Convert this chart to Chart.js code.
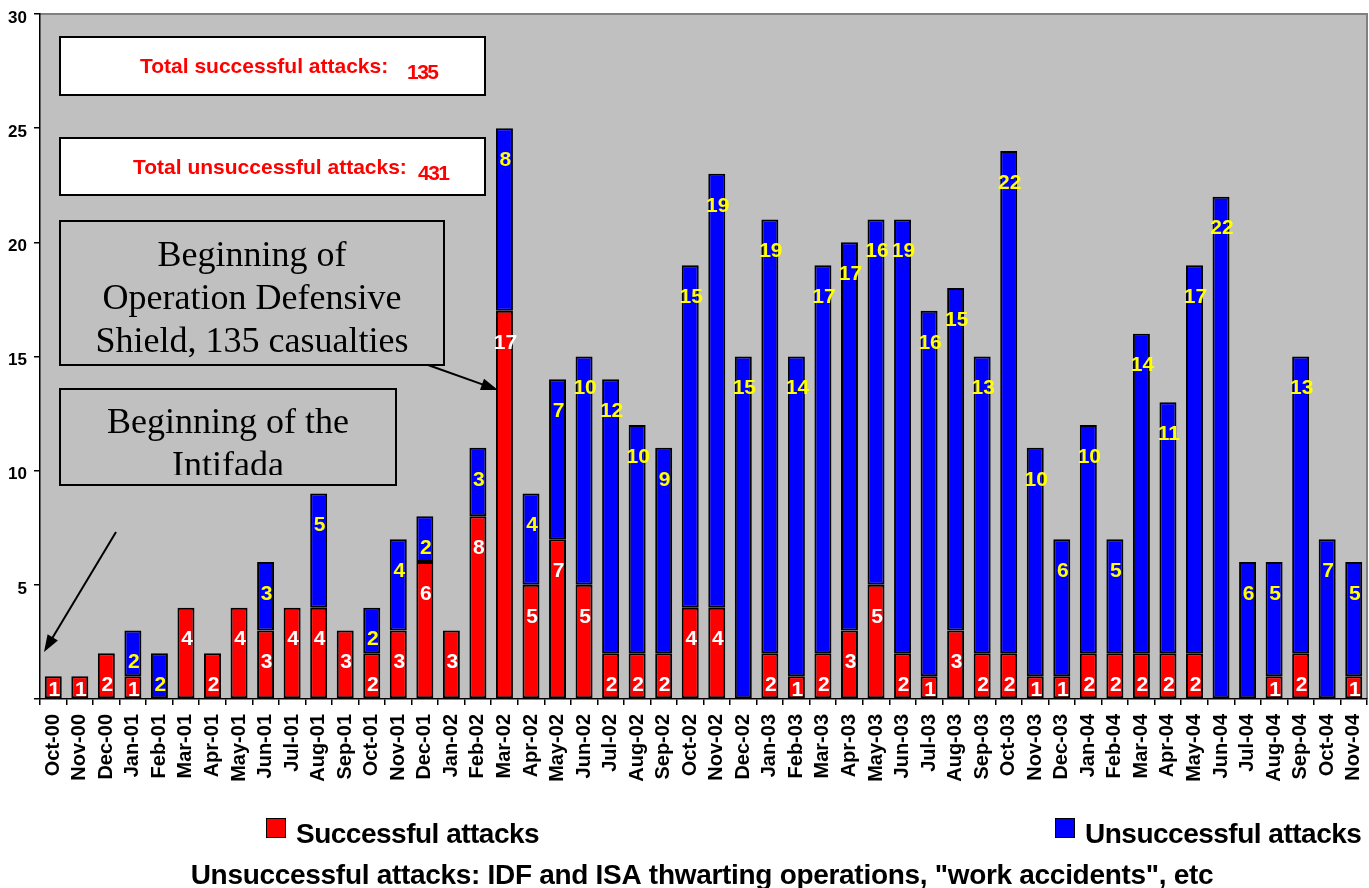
<!DOCTYPE html>
<html>
<head>
<meta charset="utf-8">
<script src="https://cdn.jsdelivr.net/npm/chart.js@4.4.1/dist/chart.umd.min.js"></script>
<style>
    html, body { margin: 0; padding: 0; background: #ffffff; }
    #wrap { position: relative; width: 1369px; height: 888px; }
</style>
</head>
<body>
<div id="wrap"><canvas id="attacksChart"></canvas></div>
<script>
// Monthly attacks, Oct-00 .. Nov-04 (stacked columns)

const months = [
    'Oct-00', 'Nov-00', 'Dec-00',
    'Jan-01', 'Feb-01', 'Mar-01', 'Apr-01', 'May-01', 'Jun-01', 'Jul-01', 'Aug-01', 'Sep-01', 'Oct-01', 'Nov-01', 'Dec-01',
    'Jan-02', 'Feb-02', 'Mar-02', 'Apr-02', 'May-02', 'Jun-02', 'Jul-02', 'Aug-02', 'Sep-02', 'Oct-02', 'Nov-02', 'Dec-02',
    'Jan-03', 'Feb-03', 'Mar-03', 'Apr-03', 'May-03', 'Jun-03', 'Jul-03', 'Aug-03', 'Sep-03', 'Oct-03', 'Nov-03', 'Dec-03',
    'Jan-04', 'Feb-04', 'Mar-04', 'Apr-04', 'May-04', 'Jun-04', 'Jul-04', 'Aug-04', 'Sep-04', 'Oct-04', 'Nov-04'
];

const successful = [
    1, 1, 2,
    1, 0, 4, 2, 4, 3, 4, 4, 3, 2, 3, 6,
    3, 8, 17, 5, 7, 5, 2, 2, 2, 4, 4, 0,
    2, 1, 2, 3, 5, 2, 1, 3, 2, 2, 1, 1,
    2, 2, 2, 2, 2, 0, 0, 1, 2, 0, 1
];

const unsuccessful = [
    0, 0, 0,
    2, 2, 0, 0, 0, 3, 0, 5, 0, 2, 4, 2,
    0, 3, 8, 4, 7, 10, 12, 10, 9, 15, 19, 15,
    19, 14, 17, 17, 16, 19, 16, 15, 13, 22, 10, 6,
    10, 5, 14, 11, 17, 22, 6, 5, 13, 7, 5
];

const yTicks = [0, 5, 10, 15, 20, 25, 30];

const seriesNames = ['Successful attacks', 'Unsuccessful attacks'];
const totalSuccessful = 135;
const totalUnsuccessful = 431;
const shieldNote = ['Beginning of', 'Operation Defensive', 'Shield, 135 casualties'];
const intifadaNote = ['Beginning of the', 'Intifada'];
const footNote = 'Unsuccessful attacks: IDF and ISA thwarting operations, "work accidents", etc';

const RED = '#ff0000';
const BLUE = '#0000ff';
const SANS = "Arial, 'Liberation Sans', sans-serif";
const SERIF = "'Times New Roman', 'Liberation Serif', serif";

// gray plot area like Excel
const plotBackground = {
    id: 'plotBackground',
    beforeDraw(chart) {
        const { ctx, chartArea: a } = chart;
        ctx.save();
        ctx.fillStyle = '#c0c0c0';
        ctx.fillRect(a.left, a.top, a.right - a.left, a.bottom - a.top);
        ctx.strokeStyle = '#808080';
        ctx.lineWidth = 2;
        ctx.beginPath();
        ctx.moveTo(a.left, a.top);
        ctx.lineTo(a.right, a.top);
        ctx.lineTo(a.right, a.bottom);
        ctx.stroke();
        ctx.restore();
    }
};

// value labels inside the segments, near the top
const segmentLabels = {
    id: 'segmentLabels',
    afterDatasetsDraw(chart) {
        const { ctx } = chart;
        ctx.save();
        ctx.font = 'bold 21px ' + SANS;
        ctx.textAlign = 'center';
        ctx.textBaseline = 'middle';
        chart.data.datasets.forEach((ds, i) => {
            const meta = chart.getDatasetMeta(i);
            ctx.fillStyle = i === 0 ? '#ffffff' : '#ffff00';
            meta.data.forEach((bar, j) => {
                const v = ds.data[j];
                if (!v) return;
                const y = Math.min(bar.y + 32, bar.base - 8);
                ctx.fillText(String(v), bar.x + 1, y);
            });
        });
        ctx.restore();
    }
};

function drawArrow(ctx, x1, y1, x2, y2) {
    const ang = Math.atan2(y2 - y1, x2 - x1);
    const len = 17, half = 6;
    ctx.beginPath();
    ctx.moveTo(x1, y1);
    ctx.lineTo(x2 - Math.cos(ang) * len * 0.8, y2 - Math.sin(ang) * len * 0.8);
    ctx.stroke();
    ctx.beginPath();
    ctx.moveTo(x2, y2);
    ctx.lineTo(x2 - Math.cos(ang) * len - Math.sin(ang) * half, y2 - Math.sin(ang) * len + Math.cos(ang) * half);
    ctx.lineTo(x2 - Math.cos(ang) * len + Math.sin(ang) * half, y2 - Math.sin(ang) * len - Math.cos(ang) * half);
    ctx.closePath();
    ctx.fill();
}

function box(ctx, x, y, w, h, fill) {
    ctx.fillStyle = fill;
    ctx.fillRect(x, y, w, h);
    ctx.strokeStyle = '#000000';
    ctx.lineWidth = 2;
    ctx.strokeRect(x, y, w, h);
}

// text boxes, arrows, legend and foot note
const annotations = {
    id: 'annotations',
    afterDraw(chart) {
        const { ctx } = chart;
        ctx.save();

        // totals
        box(ctx, 60, 37, 425, 58, '#ffffff');
        box(ctx, 60, 138, 425, 57, '#ffffff');
        ctx.fillStyle = RED;
        ctx.textBaseline = 'alphabetic';
        ctx.textAlign = 'left';
        ctx.font = 'bold 21px ' + SANS;
        ctx.fillText('Total successful attacks:', 140, 73);
        ctx.fillText('Total unsuccessful attacks:', 133, 174);
        ctx.font = 'bold 21px ' + SANS;
        ctx.letterSpacing = '-1.5px';
        ctx.fillText(String(totalSuccessful), 407, 79);
        ctx.fillText(String(totalUnsuccessful), 418, 180);
        ctx.letterSpacing = '0px';

        // Defensive Shield note
        box(ctx, 60, 221, 384, 144, '#c0c0c0');
        ctx.fillStyle = '#000000';
        ctx.textAlign = 'center';
        ctx.font = '36px ' + SERIF;
        shieldNote.forEach((line, i) => ctx.fillText(line, 252, 266 + i * 43));

        // Intifada note (second line clipped by the box)
        box(ctx, 60, 389, 336, 96, '#c0c0c0');
        ctx.save();
        ctx.beginPath();
        ctx.rect(61, 390, 334, 85);
        ctx.clip();
        ctx.fillStyle = '#000000';
        intifadaNote.forEach((line, i) => ctx.fillText(line, 228, 433 + i * 43));
        ctx.restore();

        // arrows
        ctx.strokeStyle = '#000000';
        ctx.fillStyle = '#000000';
        ctx.lineWidth = 2;
        drawArrow(ctx, 428, 365, 498, 390);
        drawArrow(ctx, 116, 532, 44, 652);

        // legend
        const colors = [RED, BLUE];
        const legendX = [266, 1055];
        ctx.font = 'bold 28px ' + SANS;
        ctx.textAlign = 'left';
        ctx.letterSpacing = '-0.5px';
        seriesNames.forEach((name, i) => {
            ctx.fillStyle = colors[i];
            ctx.fillRect(legendX[i], 818, 19, 19);
            ctx.strokeStyle = '#000000';
            ctx.lineWidth = 1;
            ctx.strokeRect(legendX[i] + 0.5, 818.5, 19, 19);
            ctx.fillStyle = '#000000';
            ctx.fillText(name, legendX[i] + 30, 843);
        });

        // foot note
        ctx.textAlign = 'center';
        ctx.font = 'bold 28px ' + SANS;
        ctx.letterSpacing = '-0.3px';
        ctx.fillText(footNote, 702, 884);
        ctx.letterSpacing = '0px';
        ctx.restore();
    }
};

const ctx = document.getElementById('attacksChart');

new Chart(ctx, {
    type: 'bar',
    data: {
        labels: months,
        datasets: [
            {
                label: seriesNames[0],
                data: successful,
                backgroundColor: RED,
                borderColor: '#000000',
                borderWidth: 2,
                borderSkipped: false,
                barPercentage: 0.64,
                categoryPercentage: 1
            },
            {
                label: seriesNames[1],
                data: unsuccessful,
                backgroundColor: BLUE,
                borderColor: '#000000',
                borderWidth: 2,
                borderSkipped: false,
                barPercentage: 0.64,
                categoryPercentage: 1
            }
        ]
    },
    options: {
        responsive: true,
        maintainAspectRatio: false,
        animation: false,
        layout: { padding: { top: 14, right: 2, bottom: 0, left: 0 } },
        plugins: {
            legend: { display: false },
            tooltip: { enabled: false }
        },
        scales: {
            x: {
                stacked: true,
                grid: { drawOnChartArea: false, color: '#000000', tickLength: 6, lineWidth: 1.5 },
                border: { color: '#000000', width: 1.5 },
                ticks: {
                    color: '#000000',
                    font: { family: SANS, size: 20, weight: 'bold' },
                    minRotation: 90,
                    maxRotation: 90,
                    autoSkip: false,
                    padding: 9
                },
                afterFit(scale) {
                    scale.height = 189;
                    scale.paddingLeft = 0;
                    scale.paddingRight = 0;
                }
            },
            y: {
                stacked: true,
                min: 0,
                max: 30,
                afterBuildTicks(scale) { scale.ticks = yTicks.map(v => ({ value: v })); },
                grid: { drawOnChartArea: false, color: '#000000', tickLength: 6, lineWidth: 1.5 },
                border: { color: '#000000', width: 1.5 },
                ticks: {
                    color: '#000000',
                    font: { family: SANS, size: 17, weight: 'bold' },
                    padding: 7,
                    labelOffset: 4,
                    callback: function(value) { return value === 0 ? '' : value; }
                },
                afterFit(scale) {
                    scale.width = 40;
                    scale.paddingTop = 0;
                    scale.paddingBottom = 0;
                }
            }
        }
    },
    plugins: [plotBackground, segmentLabels, annotations]
});
</script>
</body>
</html>
